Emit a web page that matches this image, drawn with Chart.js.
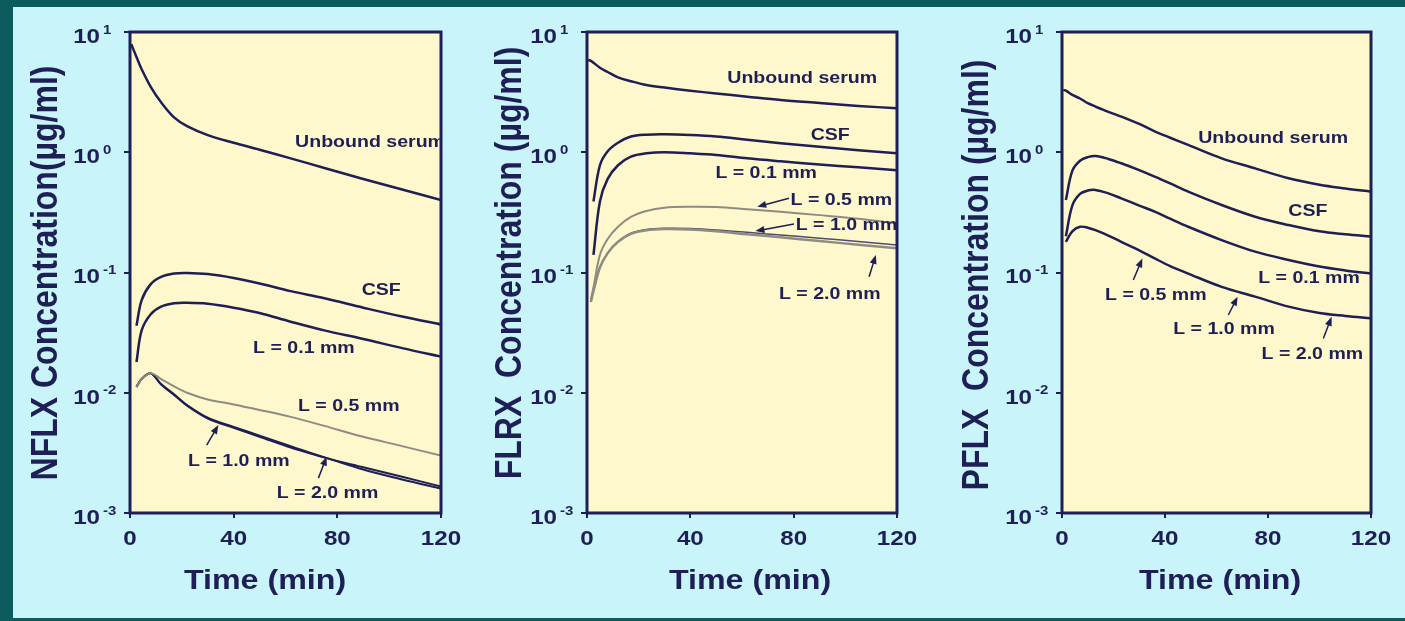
<!DOCTYPE html>
<html lang="en">
<head>
<meta charset="UTF-8">
<title>Concentration vs time</title>
<script src="https://cdn.jsdelivr.net/npm/chart.js@4/dist/chart.umd.min.js"></script>
<style>
html, body { margin: 0; padding: 0; }
body { width: 1405px; height: 621px; background: #c8f4fa; position: relative; overflow: hidden; }
.frame { position: absolute; background: #0c5c5e; }
canvas { position: absolute; top: 0; }
</style>
</head>
<body>
<div class="frame" style="left:0;top:0;width:1405px;height:7px"></div>
<div class="frame" style="left:0;top:0;width:13px;height:621px"></div>
<div class="frame" style="left:0;top:618px;width:1405px;height:3px"></div>
<canvas id="nflx" width="470" height="621" style="left:0px"></canvas>
<canvas id="flrx" width="465" height="621" style="left:470px"></canvas>
<canvas id="pflx" width="470" height="621" style="left:935px"></canvas>

<script>
// axis ticks
const xTicks = [0, 40, 80, 120];
const yTicks = [0.001, 0.01, 0.1, 1, 10];

// NFLX (left panel)
const nfTime  = [0.5, 2.5, 4.5, 8, 12, 17, 22, 30, 40, 50, 62, 75, 90, 105, 120];
const nfSerum = [7.9, 6.2, 4.9, 3.5, 2.6, 1.95, 1.65, 1.39, 1.2, 1.05, 0.89, 0.74, 0.6, 0.49, 0.40];
const nfCsf   = [null, 0.036, 0.059, 0.080, 0.092, 0.098, 0.099, 0.097, 0.090, 0.081, 0.070, 0.061, 0.051, 0.043, 0.037];
const nfL01   = [null, 0.018, 0.033, 0.045, 0.052, 0.0555, 0.056, 0.055, 0.051, 0.046, 0.039, 0.033, 0.028, 0.0235, 0.020];
const nfL05   = [null, 0.0112, 0.013, 0.0145, 0.013, 0.0113, 0.0100, 0.0088, 0.0080, 0.0072, 0.0063, 0.0053, 0.0043, 0.0036, 0.0030];
const nfL10   = [null, 0.0112, 0.013, 0.0145, 0.0118, 0.0097, 0.0079, 0.0062, 0.0052, 0.0044, 0.0036, 0.0029, 0.0024, 0.0020, 0.00166];
const nfL20   = [null, 0.0112, 0.013, 0.0145, 0.0117, 0.0096, 0.0078, 0.0061, 0.0051, 0.0043, 0.0035, 0.0029, 0.0023, 0.0019, 0.0016];

// FLRX (middle panel)
const flTime  = [0.5, 1.5, 2.5, 5, 8, 12, 17, 23, 30, 40, 50, 62, 75, 90, 105, 120];
const flSerum = [5.85, 5.75, 5.55, 5.05, 4.65, 4.2, 3.9, 3.62, 3.45, 3.25, 3.08, 2.9, 2.72, 2.57, 2.43, 2.32];
const flCsf   = [null, null, 0.39, 0.78, 1.02, 1.2, 1.35, 1.4, 1.41, 1.39, 1.35, 1.27, 1.19, 1.11, 1.04, 0.98];
const flL01   = [null, null, 0.14, 0.39, 0.6, 0.78, 0.92, 0.98, 1.0, 0.98, 0.95, 0.89, 0.84, 0.79, 0.75, 0.71];
const flL05   = [null, 0.06, 0.075, 0.14, 0.19, 0.24, 0.29, 0.325, 0.346, 0.352, 0.35, 0.336, 0.32, 0.30, 0.28, 0.257];
const flL10   = [null, 0.057, 0.07, 0.11, 0.145, 0.18, 0.212, 0.228, 0.233, 0.232, 0.226, 0.216, 0.205, 0.193, 0.181, 0.169];
const flL20   = [null, 0.057, 0.07, 0.11, 0.145, 0.18, 0.21, 0.225, 0.23, 0.228, 0.22, 0.208, 0.196, 0.183, 0.17, 0.159];

// PFLX (right panel) - L = 0.5, 1.0 and 2.0 mm share one curve
const pfTime  = [0.5, 1.5, 4, 7, 10, 13, 18, 23, 30, 36, 42, 49, 62, 75, 88, 100, 110, 120];
const pfSerum = [3.3, 3.25, 3.0, 2.8, 2.56, 2.4, 2.17, 1.98, 1.72, 1.49, 1.32, 1.15, 0.89, 0.735, 0.607, 0.537, 0.5, 0.47];
const pfCsf   = [null, 0.40, 0.70, 0.85, 0.91, 0.93, 0.88, 0.81, 0.71, 0.627, 0.55, 0.47, 0.364, 0.291, 0.248, 0.22, 0.208, 0.199];
const pfL01   = [null, 0.20, 0.36, 0.45, 0.48, 0.486, 0.455, 0.414, 0.36, 0.321, 0.28, 0.24, 0.186, 0.149, 0.127, 0.112, 0.104, 0.098];
const pfL05   = [null, 0.18, 0.22, 0.24, 0.236, 0.225, 0.203, 0.18, 0.153, 0.131, 0.113, 0.098, 0.076, 0.063, 0.052, 0.046, 0.0435, 0.0416];

// curve labels (time, concentration) and arrows [t1, c1, t2, c2]
const nfNotes = [
  ['Unbound serum', 63.7, 1.22], ['CSF', 89.4, 0.0714], ['L = 0.1 mm', 47.5, 0.0234],
  ['L = 0.5 mm', 64.8, 0.00766], ['L = 1.0 mm', 22.4, 0.00267], ['L = 2.0 mm', 56.6, 0.00146]
];
const nfArrows = [[29.6, 0.00367, 34.1, 0.0054], [72.7, 0.00195, 75.9, 0.00294]];
const flNotes = [
  ['Unbound serum', 54.3, 4.14], ['CSF', 86.6, 1.39], ['L = 0.1 mm', 49.7, 0.668],
  ['L = 0.5 mm', 78.8, 0.401], ['L = 1.0 mm', 80.8, 0.248], ['L = 2.0 mm', 74.3, 0.0662]
];
const flArrows = [[78.2, 0.414, 65.9, 0.352], [80.1, 0.253, 65.2, 0.221], [109.2, 0.0923, 111.8, 0.14]];
const pfNotes = [
  ['Unbound serum', 52.9, 1.31], ['CSF', 87.9, 0.321], ['L = 0.1 mm', 76.2, 0.0895],
  ['L = 0.5 mm', 16.7, 0.065], ['L = 1.0 mm', 43.2, 0.0339], ['L = 2.0 mm', 77.5, 0.021]
];
const pfArrows = [[27.7, 0.0867, 31.2, 0.131], [64.6, 0.0443, 68.2, 0.063], [101.5, 0.0283, 104.7, 0.0428]];

const INK = '#1d1f55';
const GREY = '#8e8c82';
const PLOT_BG = '#fff8cc';
const STRETCH = 1.15;
const FONT = '"Liberation Sans", Arial, sans-serif';

function pts(times, vals) {
  return times.map((t, i) => ({ x: t, y: vals[i] })).filter(p => p.y != null);
}

function line(times, vals, color, width) {
  return {
    data: pts(times, vals),
    borderColor: color,
    borderWidth: width,
    pointRadius: 0,
    fill: false,
    tension: 0.35
  };
}

function wideText(ctx, text, x, y, size, align, angle) {
  ctx.save();
  ctx.translate(x, y);
  ctx.scale(STRETCH, 1);
  if (angle) ctx.rotate(angle);
  ctx.font = 'bold ' + size + 'px ' + FONT;
  ctx.textAlign = align;
  ctx.textBaseline = 'middle';
  ctx.fillStyle = INK;
  ctx.fillText(text, 0, 0);
  ctx.restore();
}

const panelPlugin = {
  id: 'panel',
  beforeDatasetsDraw(chart) {
    const a = chart.chartArea, ctx = chart.ctx;
    ctx.save();
    ctx.fillStyle = PLOT_BG;
    ctx.fillRect(a.left, a.top, a.right - a.left, a.bottom - a.top);
    ctx.restore();
  },
  afterDatasetsDraw(chart, args, opts) {
    const a = chart.chartArea, ctx = chart.ctx;
    const xs = chart.scales.x, ys = chart.scales.y;

    // labels and arrows inside the plot
    ctx.save();
    ctx.beginPath();
    ctx.rect(a.left, a.top, a.right - a.left, a.bottom - a.top);
    ctx.clip();
    opts.notes.forEach(n => {
      wideText(ctx, n[0], xs.getPixelForValue(n[1]), ys.getPixelForValue(n[2]), 17, 'left');
    });
    opts.arrows.forEach(r => {
      const x1 = xs.getPixelForValue(r[0]), y1 = ys.getPixelForValue(r[1]);
      const x2 = xs.getPixelForValue(r[2]), y2 = ys.getPixelForValue(r[3]);
      const ang = Math.atan2(y2 - y1, x2 - x1);
      ctx.strokeStyle = INK;
      ctx.fillStyle = INK;
      ctx.lineWidth = 1.5;
      ctx.beginPath();
      ctx.moveTo(x1, y1);
      ctx.lineTo(x2 - 5 * Math.cos(ang), y2 - 5 * Math.sin(ang));
      ctx.stroke();
      ctx.beginPath();
      ctx.moveTo(x2, y2);
      ctx.lineTo(x2 - 9 * Math.cos(ang) + 3.5 * Math.sin(ang), y2 - 9 * Math.sin(ang) - 3.5 * Math.cos(ang));
      ctx.lineTo(x2 - 9 * Math.cos(ang) - 3.5 * Math.sin(ang), y2 - 9 * Math.sin(ang) + 3.5 * Math.cos(ang));
      ctx.closePath();
      ctx.fill();
    });
    ctx.restore();

    // plot frame
    ctx.save();
    ctx.strokeStyle = INK;
    ctx.lineWidth = 3;
    ctx.strokeRect(a.left, a.top, a.right - a.left, a.bottom - a.top);
    ctx.restore();

    // y tick labels 10^n
    ys.ticks.forEach(t => {
      const py = ys.getPixelForValue(t.value);
      const e = Math.round(Math.log10(t.value));
      wideText(ctx, '10', a.left - 30, py + 5, 21, 'right');
      wideText(ctx, String(e), a.left - 27, py - 2, 13, 'left');
    });
    // x tick labels
    xs.ticks.forEach(t => {
      wideText(ctx, String(t.value), xs.getPixelForValue(t.value), 539, 21, 'center');
    });

    // axis titles
    wideText(ctx, 'Time (min)', opts.xTitleX, 581, 28, 'center');
    wideText(ctx, opts.yTitle, opts.yTitleX, opts.yTitleY, 32, 'center', -Math.PI / 2);
  }
};

function makePanel(id, datasets, yWidth, padRight, extra) {
  return new Chart(document.getElementById(id), {
    type: 'line',
    data: { datasets: datasets },
    options: {
      responsive: false,
      animation: false,
      events: [],
      layout: { padding: { left: 0, right: padRight, top: 32, bottom: 0 } },
      plugins: {
        legend: { display: false },
        tooltip: { enabled: false },
        panel: extra
      },
      scales: {
        x: {
          type: 'linear',
          min: 0,
          max: 120,
          afterBuildTicks: ax => { ax.ticks = xTicks.map(v => ({ value: v })); },
          afterFit: ax => { ax.height = 108; },
          ticks: { display: false },
          border: { display: false },
          grid: { drawOnChartArea: false, drawTicks: true, tickLength: 5, color: INK, lineWidth: 2 }
        },
        y: {
          type: 'logarithmic',
          min: 0.001,
          max: 10,
          afterBuildTicks: ax => { ax.ticks = yTicks.map(v => ({ value: v })); },
          afterFit: ax => { ax.width = yWidth; },
          ticks: { display: false },
          border: { display: false },
          grid: { drawOnChartArea: false, drawTicks: true, tickLength: 6, color: INK, lineWidth: 2 }
        }
      }
    },
    plugins: [panelPlugin]
  });
}

makePanel('nflx', [
  line(nfTime, nfSerum, INK, 2.5),
  line(nfTime, nfCsf, INK, 2.5),
  line(nfTime, nfL01, INK, 2.5),
  line(nfTime, nfL05, GREY, 2),
  line(nfTime, nfL20, INK, 2),
  line(nfTime, nfL10, INK, 2)
], 130, 29, {
  notes: nfNotes, arrows: nfArrows,
  yTitle: 'NFLX Concentration(µg/ml)', yTitleX: 47, yTitleY: 273, xTitleX: 265
});

makePanel('flrx', [
  line(flTime, flSerum, INK, 2.5),
  line(flTime, flCsf, INK, 2.5),
  line(flTime, flL01, INK, 2.5),
  line(flTime, flL05, GREY, 2),
  line(flTime, flL20, GREY, 2.5),
  line(flTime, flL10, '#4a4b6e', 1.5)
], 117, 38, {
  notes: flNotes, arrows: flArrows,
  yTitle: 'FLRX  Concentration (µg/ml)', yTitleX: 41, yTitleY: 263, xTitleX: 280
});

makePanel('pflx', [
  line(pfTime, pfSerum, INK, 2.5),
  line(pfTime, pfCsf, INK, 2.5),
  line(pfTime, pfL01, INK, 2.5),
  line(pfTime, pfL05, INK, 2.5)
], 127, 34, {
  notes: pfNotes, arrows: pfArrows,
  yTitle: 'PFLX  Concentration (µg/ml)', yTitleX: 43, yTitleY: 275, xTitleX: 285
});
</script>
</body>
</html>
